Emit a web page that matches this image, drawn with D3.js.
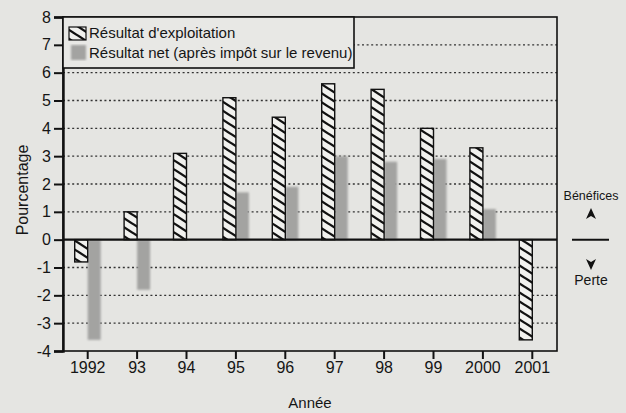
<!DOCTYPE html>
<html>
<head>
<meta charset="utf-8">
<script src="https://cdn.jsdelivr.net/npm/d3@7"></script>
<style>
  html, body { margin: 0; padding: 0; background: #e5e5e2; }
  svg { display: block; }
  text { font-family: "Liberation Sans", Arial, sans-serif; fill: #151515; }
</style>
</head>
<body>
<svg id="chart" width="626" height="413"></svg>
<script>
// Years on the horizontal axis
const years = ["1992", "93", "94", "95", "96", "97", "98", "99", "2000", "2001"];
// Operating result, %
const resultatExploitation = [-0.8, 1.0, 3.1, 5.1, 4.4, 5.6, 5.4, 4.0, 3.3, -3.6];
// Net result after income tax, %
const resultatNet = [-3.6, -1.8, 0, 1.7, 1.9, 3.0, 2.8, 2.9, 1.1, 0];
// Vertical axis ticks
const yTicks = [-4, -3, -2, -1, 0, 1, 2, 3, 4, 5, 6, 7, 8];
const seriesNames = ["Résultat d'exploitation", "Résultat net (après impôt sur le revenu)"];

const svg = d3.select("#chart");
const margin = { left: 63, top: 17, right: 69, bottom: 62 };
const W = 626, H = 413;
const iw = W - margin.left - margin.right;
const ih = H - margin.top - margin.bottom;

const defs = svg.append("defs");
// backslash hatching: lines falling from upper left to lower right
const pw = 14, ph = 9;
const pat = defs.append("pattern")
  .attr("id", "hatch").attr("patternUnits", "userSpaceOnUse")
  .attr("width", pw).attr("height", ph);
pat.append("rect").attr("width", pw).attr("height", ph).attr("fill", "#f1f1ee");
pat.selectAll("line").data([-1, 0, 1]).join("line")
  .attr("x1", -pw).attr("y1", k => -ph + k * ph)
  .attr("x2", 2 * pw).attr("y2", k => 2 * ph + k * ph)
  .attr("stroke", "#111").attr("stroke-width", 2.3);

const blur = defs.append("filter").attr("id", "soft")
  .attr("x", "-20%").attr("y", "-5%").attr("width", "140%").attr("height", "110%");
blur.append("feGaussianBlur").attr("stdDeviation", 0.8);

const g = svg.append("g").attr("transform", `translate(${margin.left},${margin.top})`);

const x = d3.scaleBand().domain(years).range([0, iw]).padding(0);
const y = d3.scaleLinear().domain([-4, 8]).range([ih, 0]);
const groupW = 26;
const x1 = d3.scaleBand().domain([0, 1]).range([0, groupW]);
const off = (x.bandwidth() - groupW) / 2;

// dotted gridlines
g.append("g").selectAll("line")
  .data(yTicks.filter(v => v !== 0 && v !== 8 && v !== -4))
  .join("line")
  .attr("x1", 0).attr("x2", iw)
  .attr("y1", d => y(d)).attr("y2", d => y(d))
  .attr("stroke", "#333").attr("stroke-width", 1.4)
  .attr("stroke-dasharray", "2,2.6");

// net result bars (grey, soft)
g.append("g").attr("filter", "url(#soft)").selectAll("rect")
  .data(years.map((yr, i) => ({ yr, v: resultatNet[i] })).filter(d => d.v !== 0))
  .join("rect")
  .attr("x", d => x(d.yr) + off + x1(1))
  .attr("width", x1.bandwidth())
  .attr("y", d => y(Math.max(0, d.v)))
  .attr("height", d => Math.abs(y(d.v) - y(0)))
  .attr("fill", "#a3a3a1");

// operating result bars (hatched)
g.append("g").selectAll("rect")
  .data(years.map((yr, i) => ({ yr, v: resultatExploitation[i] })))
  .join("rect")
  .attr("x", d => x(d.yr) + off + x1(0))
  .attr("width", x1.bandwidth())
  .attr("y", d => y(Math.max(0, d.v)))
  .attr("height", d => Math.abs(y(d.v) - y(0)))
  .attr("fill", "url(#hatch)")
  .attr("stroke", "#111").attr("stroke-width", 1.4);

// zero line
g.append("line").attr("x1", 0).attr("x2", iw)
  .attr("y1", y(0)).attr("y2", y(0))
  .attr("stroke", "#111").attr("stroke-width", 2.2);

// frame
g.append("rect").attr("x", 0).attr("y", 0).attr("width", iw).attr("height", ih)
  .attr("fill", "none").attr("stroke", "#111").attr("stroke-width", 1.6);

// y axis
const yAxis = g.append("g").call(
  d3.axisLeft(y).tickValues(yTicks).tickFormat(d => String(d)).tickSize(9).tickPadding(3)
);
yAxis.select(".domain").attr("stroke", "#111").attr("stroke-width", 2.4);
yAxis.selectAll(".tick line").attr("stroke", "#111").attr("stroke-width", 2);
yAxis.selectAll("text").attr("font-size", 16).attr("fill", "#151515")
  .style("font-family", "'Liberation Sans', Arial, sans-serif");

// x axis
const xAxis = g.append("g").attr("transform", `translate(0,${ih})`).call(
  d3.axisBottom(x).tickSize(8).tickPadding(3)
);
xAxis.select(".domain").remove();
xAxis.selectAll(".tick line").attr("stroke", "#111").attr("stroke-width", 2);
xAxis.selectAll("text").attr("font-size", 16).attr("fill", "#151515")
  .style("font-family", "'Liberation Sans', Arial, sans-serif");

// legend
const lg = g.append("g");
lg.append("rect").attr("x", 0).attr("y", 0).attr("width", 291).attr("height", 51)
  .attr("fill", "#e8e8e5").attr("stroke", "#111").attr("stroke-width", 1.6);
lg.append("rect").attr("x", 6).attr("y", 10).attr("width", 17).attr("height", 13)
  .attr("fill", "url(#hatch)").attr("stroke", "#111").attr("stroke-width", 1.2);
lg.append("rect").attr("x", 8).attr("y", 28).attr("width", 15).attr("height", 15)
  .attr("fill", "#a3a3a1").attr("filter", "url(#soft)");
lg.selectAll("text.leg").data(seriesNames).join("text")
  .attr("class", "leg")
  .attr("x", 26).attr("y", (d, i) => 21 + i * 20)
  .attr("font-size", 15)
  .text(d => d);

// axis titles
svg.append("text").attr("x", margin.left + iw / 2).attr("y", 408)
  .attr("text-anchor", "middle").attr("font-size", 15).text("Année");
svg.append("text").attr("transform", "translate(28,190) rotate(-90)")
  .attr("text-anchor", "middle").attr("font-size", 16).text("Pourcentage");

// profit / loss indicator on the right
const rx = 591;
const zy = y(0) + margin.top;
const ind = svg.append("g");
ind.append("text").attr("x", rx).attr("y", 200).attr("text-anchor", "middle")
  .attr("font-size", 12.5).text("Bénéfices");
ind.append("path").attr("d", `M${rx},208 L${rx + 5},219 L${rx},216 L${rx - 5},219 Z`)
  .attr("fill", "#111");
ind.append("line").attr("x1", 572).attr("x2", 609).attr("y1", zy).attr("y2", zy)
  .attr("stroke", "#111").attr("stroke-width", 2);
ind.append("path").attr("d", `M${rx},270 L${rx + 5},259 L${rx},262 L${rx - 5},259 Z`)
  .attr("fill", "#111");
ind.append("text").attr("x", rx).attr("y", 285).attr("text-anchor", "middle")
  .attr("font-size", 14).text("Perte");
</script>
</body>
</html>
